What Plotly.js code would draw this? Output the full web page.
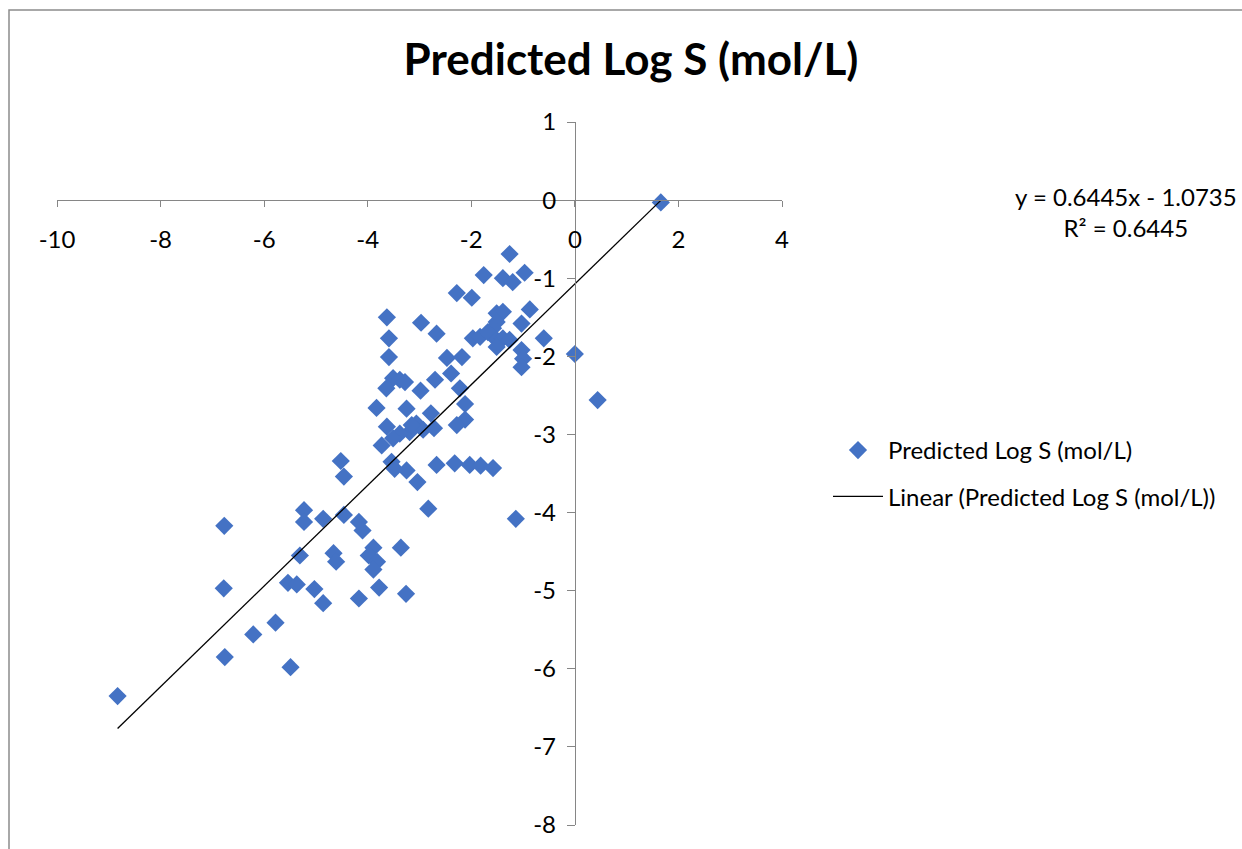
<!DOCTYPE html>
<html>
<head>
<meta charset="utf-8">
<script src="https://cdn.plot.ly/plotly-3.0.1.min.js"></script>
<style>html,body{margin:0;padding:0;background:#fff;}#chart{width:1242px;height:849px;}</style>
</head>
<body>
<div id="chart"></div>
<script>
const obsLogS = [1.66, 0.00, 0.44, -1.26, -1.76, -1.39, -1.20, -0.97, -2.28, -1.99,
  -0.87, -0.60, -3.63, -2.97, -2.67, -3.59, -3.59, -1.51, -1.39, -1.51,
  -1.58, -1.03, -1.97, -1.83, -1.68, -1.51, -1.39, -1.26, -1.51, -1.03,
  -1.00, -1.03, -2.47, -2.18, -2.39, -2.22, -2.12, -2.98, -2.70, -3.51,
  -3.38, -3.28, -3.64, -3.83, -3.25, -2.78, -2.12, -2.28, -3.63, -3.06,
  -2.93, -2.72, -3.19, -3.38, -3.51, -3.73, -3.15, -3.54, -3.48, -3.25,
  -3.04, -2.67, -2.32, -2.03, -1.82, -1.58, -2.83, -1.14, -4.52, -4.46,
  -5.23, -5.23, -4.86, -4.46, -4.17, -4.10, -3.36, -5.31, -4.66, -4.61,
  -3.89, -3.98, -3.82, -3.89, -5.54, -5.37, -5.03, -4.86, -4.17, -3.78,
  -3.26, -6.77, -6.78, -6.76, -6.21, -5.78, -5.49, -8.83];
const predLogS = [-0.03, -1.97, -2.56, -0.69, -0.96, -1.00, -1.05, -0.93, -1.19, -1.25,
  -1.40, -1.77, -1.50, -1.57, -1.71, -1.77, -2.01, -1.45, -1.43, -1.56,
  -1.64, -1.58, -1.77, -1.75, -1.69, -1.79, -1.77, -1.79, -1.88, -1.92,
  -2.03, -2.14, -2.02, -2.01, -2.22, -2.41, -2.61, -2.44, -2.30, -2.28,
  -2.30, -2.33, -2.41, -2.66, -2.67, -2.73, -2.81, -2.88, -2.90, -2.86,
  -2.94, -2.92, -2.97, -2.99, -3.05, -3.14, -2.88, -3.35, -3.44, -3.46,
  -3.61, -3.39, -3.37, -3.39, -3.40, -3.43, -3.95, -4.08, -3.34, -3.54,
  -3.97, -4.12, -4.08, -4.03, -4.12, -4.23, -4.45, -4.55, -4.52, -4.63,
  -4.45, -4.55, -4.63, -4.73, -4.90, -4.92, -4.98, -5.16, -5.10, -4.96,
  -5.04, -4.17, -4.97, -5.85, -5.56, -5.41, -5.98, -6.35];

// Trendline coefficients as printed on the chart
const slope = 0.6445;
const intercept = -1.0735;
const r2 = 0.6445;

const xTickVals = [-10, -8, -6, -4, -2, 0, 2, 4];
const xTickText = ['-10', '-8', '-6', '-4', '-2', '0', '2', '4'];
const yTickVals = [-8, -7, -6, -5, -4, -3, -2, -1, 0, 1];
const yTickText = ['-8', '-7', '-6', '-5', '-4', '-3', '-2', '-1', '0', '1'];

const seriesName = 'Predicted Log S (mol/L)';
const FONT = 'Lato, "Noto Sans", sans-serif';
const FS = 24;

const xMin = Math.min(...obsLogS), xMax = Math.max(...obsLogS);
const trendX = [xMin, xMax];
const trendY = trendX.map(v => slope * v + intercept);

const traces = [
  {
    x: obsLogS, y: predLogS, type: 'scatter', mode: 'markers',
    name: seriesName, legendgroup: 'a',
    marker: {symbol: 'diamond', size: 14, color: '#4472C4', line: {width: 0}},
    cliponaxis: false
  },
  {
    x: trendX, y: trendY, type: 'scatter', mode: 'lines',
    name: 'Linear (' + seriesName + ')', legendgroup: 'b',
    line: {color: '#000000', width: 1.3}
  }
];

const layout = {
  width: 1242, height: 849,
  margin: {l: 57, r: 460, t: 122, b: 24},
  paper_bgcolor: '#ffffff', plot_bgcolor: 'rgba(0,0,0,0)',
  font: {family: FONT, size: FS, color: '#000000'},
  title: {
    text: '<b>' + seriesName + '</b>',
    font: {family: FONT, size: 44, color: '#000000'},
    x: (631 - 57) / 725, xref: 'paper', xanchor: 'center',
    y: 1 - 60 / 849, yref: 'container', yanchor: 'middle'
  },
  xaxis: {
    range: [-10, 4], tickvals: xTickVals, ticktext: xTickText,
    anchor: 'free', position: 8 / 9,
    showline: true, linecolor: '#868686', linewidth: 1,
    ticks: 'outside', ticklen: 6, tickcolor: '#868686', tickwidth: 1,
    ticklabelstandoff: 12,
    showgrid: false, zeroline: false,
    tickfont: {family: FONT, size: FS, color: '#000000'}
  },
  yaxis: {
    range: [-8, 1], tickvals: yTickVals, ticktext: yTickText,
    anchor: 'free', position: 10 / 14,
    showline: true, linecolor: '#868686', linewidth: 1,
    ticks: 'outside', ticklen: 8, tickcolor: '#868686', tickwidth: 1,
    ticklabelstandoff: 6,
    showgrid: false, zeroline: false,
    tickfont: {family: FONT, size: FS, color: '#000000'}
  },
  showlegend: true,
  legend: {
    x: (828 - 57) / 725, xanchor: 'left',
    y: (825 - 428) / 703, yanchor: 'top',
    traceorder: 'grouped', tracegroupgap: 12,
    itemwidth: 50,
    bgcolor: 'rgba(0,0,0,0)',
    font: {family: FONT, size: FS, color: '#000000'}
  },
  annotations: [{
    text: 'y = ' + slope.toFixed(4) + 'x - ' + Math.abs(intercept).toFixed(4) + '<br>R² = ' + r2.toFixed(4),
    xref: 'paper', yref: 'paper',
    x: (1126 - 57) / 725, y: (825 - 212) / 703,
    xanchor: 'center', yanchor: 'middle', align: 'center',
    showarrow: false,
    font: {family: FONT, size: FS, color: '#000000'}
  }],
  shapes: [{
    type: 'rect', xref: 'paper', yref: 'paper',
    x0: (9 - 57) / 725, x1: (1320 - 57) / 725,
    y0: (825 - 870) / 703, y1: (825 - 10) / 703,
    line: {color: '#8c8c8c', width: 1.5}, fillcolor: 'rgba(0,0,0,0)'
  }]
};

Plotly.newPlot('chart', traces, layout, {displayModeBar: false, staticPlot: true});
</script>
</body>
</html>
